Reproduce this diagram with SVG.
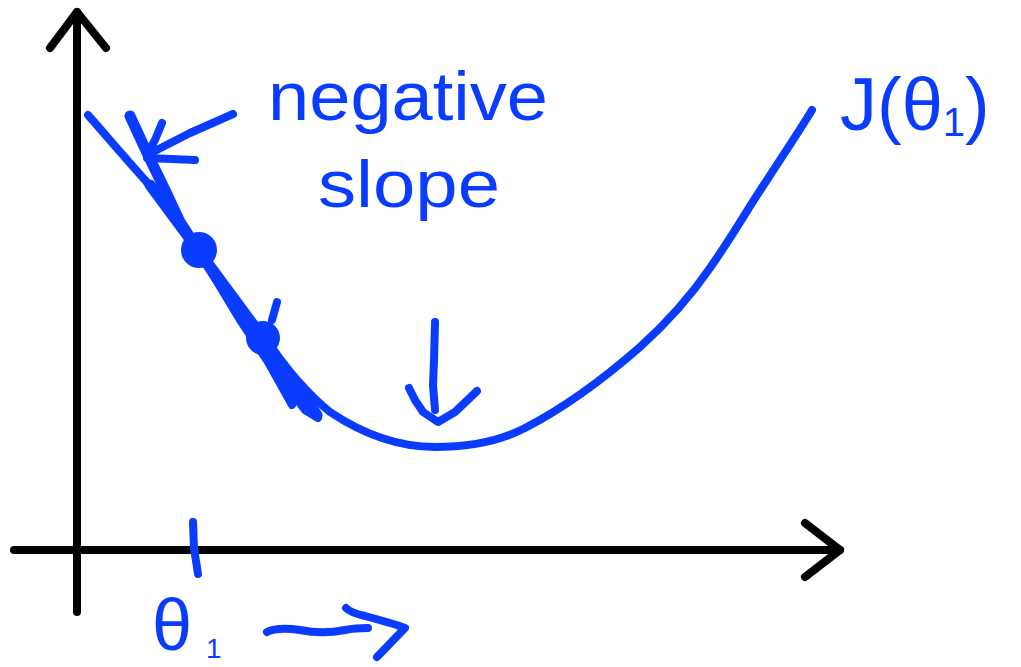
<svg xmlns="http://www.w3.org/2000/svg" width="1021" height="667" viewBox="0 0 1021 667">
<style>
.ax{fill:none;stroke:#000;stroke-width:8;stroke-linecap:round;stroke-linejoin:round}
.ink{fill:none;stroke:#0a3cff;stroke-width:8;stroke-linecap:round;stroke-linejoin:round}
.thick{fill:none;stroke:#0a3cff;stroke-width:11;stroke-linecap:round;stroke-linejoin:round}
.dot{fill:#0a3cff}
.lbl{fill:#0a3cff;font-family:"Liberation Sans","DejaVu Sans",sans-serif}
</style>
<rect width="1021" height="667" fill="#fff"/>
<g id="axes">
<path class="ax" d="M77,612 L77,12"/>
<path class="ax" d="M50,48 L77,12 L106,48"/>
<path class="ax" d="M14,550 L840,550"/>
<path class="ax" d="M805,523 L840,550 L805,577"/>
</g>
<g id="cost-curve">
<path class="ink" d="M88,115 C110,140 127,160 145,180 C165,205 180,228 198,250 C220,278 240,308 263,338 C285,366 305,392 330,412 C360,432 395,447 435,447 C470,447 500,441 525,428 C560,410 600,382 640,347 C670,320 690,297 710,268 C735,232 750,205 767,180 C785,152 800,130 812,110"/>
</g>
<g id="tangents">
<path class="thick" d="M130,116 L148,155 L165,190 L180,222 L198,250"/>
<path class="thick" d="M150,185 L198,250 L235,300 L263,338 L290,375 L317,415"/>
<path class="ink" d="M205,262 L240,320 L268,362 L292,405"/>
<path class="ink" d="M262,350 L290,390 L305,410 L318,418"/>
<path class="thick" d="M168,205 L210,268 L250,328"/>
<path class="ink" d="M270,345 L300,395 L312,412"/>
</g>
<g id="points">
<circle class="dot" cx="199" cy="250" r="18"/>
<circle class="dot" cx="263" cy="338" r="17"/>
<path class="ink" d="M277,302 L272,320"/>
</g>
<g id="slope-pointer">
<path class="ink" d="M233,114 L190,133 L147,155"/>
<path class="ink" d="M162,123 L155,140 L147,155"/>
<path class="ink" d="M147,158 L195,160"/>
</g>
<g id="minimum-arrow">
<path class="ink" d="M435,322 L434,360 L433,385 L435,410"/>
<path class="ink" d="M409,388 L415,400 L423,412 L438,422 L455,412 L477,391"/>
</g>
<g id="theta-tick">
<path class="ink" d="M193,522 L194,548 L198,574"/>
</g>
<g id="direction-arrow">
<path class="ink" d="M267,632 C275,628 285,628 300,630 C315,633 330,633 345,630 C355,628 362,628 368,628"/>
<path class="ink" d="M346,608 C350,612 356,614 365,616 C380,620 395,624 405,628 L377,657"/>
</g>
<g id="labels">
<text class="lbl" x="268" y="120" font-size="68" textLength="280" lengthAdjust="spacingAndGlyphs">negative</text>
<text class="lbl" x="318" y="207" font-size="66" textLength="182" lengthAdjust="spacingAndGlyphs">slope</text>
<text class="lbl" x="840" y="130" font-size="74">J(θ<tspan font-size="40" dy="6">1</tspan><tspan dy="-6">)</tspan></text>
<text class="lbl" x="152" y="650" font-size="72">θ<tspan font-size="28" dx="14" dy="8">1</tspan></text>
</g>
</svg>
